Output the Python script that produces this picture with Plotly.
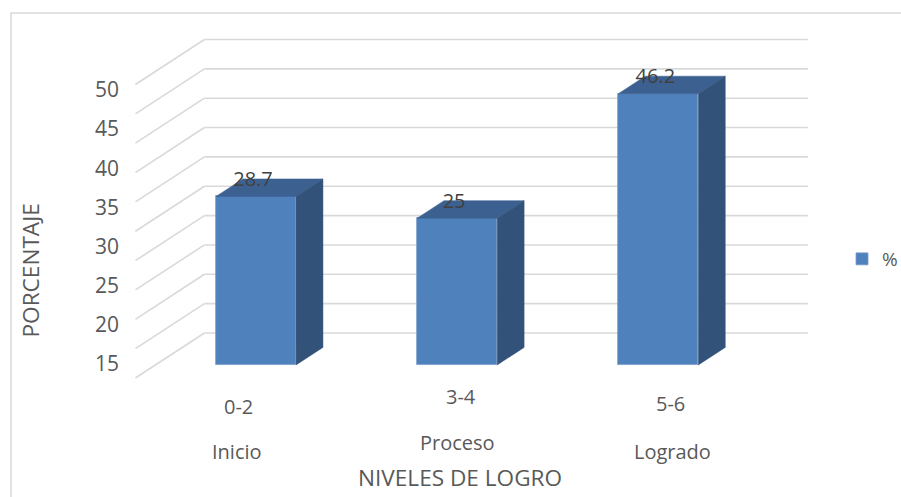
import plotly.graph_objects as go

# ---- data ----
categories_range = ["0-2", "3-4", "5-6"]
categories_level = ["Inicio", "Proceso", "Logrado"]
values = [28.7, 25, 46.2]
series_name = "%"
tick_labels = [15, 20, 25, 30, 35, 40, 45, 50]
grid_values = [0, 5, 10, 15, 20, 25, 30, 35, 40, 45, 50]

# ---- pseudo-3D geometry (style) ----
DX, DY = 0.343, 7.67      # full floor depth in axis units
D0, D1 = 0.29, 0.68       # bar front / back depth fraction
W = 0.398                 # bar width
FRONT = "#4F81BD"
SIDE = "#33527A"
TOP = "#3C6191"
GRID = "#D9D9D9"
TXT = "#595959"
FONT = "Open Sans"

W_PX, H_PX = 901, 497
ML, MR, MT, MB = 120, 0, 30, 107
PW, PH = W_PX - ML - MR, H_PX - MT - MB

def px_x(p):
    return (p - ML) / PW

def px_y(p):
    return (H_PX - MB - p) / PH

n = len(values)
xs = list(range(n))

fig = go.Figure()

# gridlines (back wall + left wall diagonals)
shapes = []
for g in grid_values:
    shapes.append(dict(type="line", xref="x", yref="y", layer="below",
                       x0=-0.5, y0=g, x1=-0.5 + DX, y1=g + DY,
                       line=dict(color=GRID, width=1.6)))
    shapes.append(dict(type="line", xref="x", yref="y", layer="below",
                       x0=-0.5 + DX, y0=g + DY, x1=n - 0.5 + DX, y1=g + DY,
                       line=dict(color=GRID, width=1.6)))
# chart border
shapes.append(dict(type="rect", xref="paper", yref="paper",
                   x0=px_x(11), y0=px_y(505), x1=px_x(905), y1=px_y(13),
                   line=dict(color=GRID, width=1.5), layer="below"))

# front faces
fig.add_trace(go.Bar(
    x=[i + D0 * DX for i in xs], y=values, base=[D0 * DY] * n, width=W,
    marker=dict(color=FRONT, line=dict(color="#7D9DCB", width=0.8)),
    name=series_name, showlegend=True, hoverinfo="skip"))

# top and side faces
for i, v in zip(xs, values):
    l, r = i - W / 2, i + W / 2
    fig.add_trace(go.Scatter(
        x=[l + D0 * DX, r + D0 * DX, r + D1 * DX, l + D1 * DX, l + D0 * DX],
        y=[v + D0 * DY, v + D0 * DY, v + D1 * DY, v + D1 * DY, v + D0 * DY],
        fill="toself", fillcolor=TOP, mode="lines",
        line=dict(color=TOP, width=0.5), showlegend=False, hoverinfo="skip"))
    fig.add_trace(go.Scatter(
        x=[r + D0 * DX, r + D0 * DX, r + D1 * DX, r + D1 * DX, r + D0 * DX],
        y=[D0 * DY, v + D0 * DY, v + D1 * DY, D1 * DY, D0 * DY],
        fill="toself", fillcolor=SIDE, mode="lines",
        line=dict(color=SIDE, width=0.5), showlegend=False, hoverinfo="skip"))

# data labels
fig.add_trace(go.Scatter(
    x=[i + D0 * DX - 0.015 for i in xs], y=[v + 0.63 * DY for v in values],
    text=[f"{v:g}" for v in values], mode="text",
    textfont=dict(family=FONT, size=20, color="#404040"),
    showlegend=False, hoverinfo="skip"))

# invisible trace for tick-label axis
fig.add_trace(go.Scatter(x=[None], y=[None], yaxis="y2", showlegend=False,
                         hoverinfo="skip"))

# category labels (two levels)
range_shift = [2, 24, 32]
level_shift = [1, 20, 34]
range_ypx = [406, 396, 403]
level_ypx = [451, 442, 451]
annotations = []
for i in xs:
    annotations.append(dict(x=i, xref="x", y=px_y(range_ypx[i]), yref="paper",
                            text=categories_range[i], showarrow=False,
                            xshift=range_shift[i], xanchor="center",
                            yanchor="middle",
                            font=dict(family=FONT, size=20, color=TXT)))
    annotations.append(dict(x=i, xref="x", y=px_y(level_ypx[i]), yref="paper",
                            text=categories_level[i], showarrow=False,
                            xshift=level_shift[i], xanchor="center",
                            yanchor="middle",
                            font=dict(family=FONT, size=20, color=TXT)))
annotations.append(dict(x=px_x(460), y=px_y(477), xref="paper", yref="paper",
                        text="NIVELES DE LOGRO", showarrow=False,
                        xanchor="center", yanchor="middle",
                        font=dict(family=FONT, size=22.6, color=TXT)))
annotations.append(dict(x=px_x(30), y=px_y(270.5), xref="paper", yref="paper",
                        text="PORCENTAJE", showarrow=False, textangle=-90,
                        xanchor="center", yanchor="middle",
                        font=dict(family=FONT, size=22.6, color=TXT)))

# axis ranges chosen to map pixels
x0 = (ML - 236) / 201.15
x1 = (ML + PW - 236) / 201.15
y_lo = (378 - (H_PX - MB)) / 5.87
y_hi = (378 - MT) / 5.87
s2 = (364 - 90) / (tick_labels[-1] - tick_labels[0])
y2_lo = tick_labels[0] - ((H_PX - MB) - 364) / s2
y2_hi = tick_labels[-1] + (90 - MT) / s2

fig.update_layout(
    width=W_PX, height=H_PX, autosize=False,
    margin=dict(l=ML, r=MR, t=MT, b=MB, autoexpand=False),
    paper_bgcolor="white", plot_bgcolor="white",
    shapes=shapes, annotations=annotations,
    xaxis=dict(range=[x0, x1], showgrid=False, zeroline=False,
               showticklabels=False, showline=False, fixedrange=True),
    yaxis=dict(range=[y_lo, y_hi], showgrid=False, zeroline=False,
               showticklabels=False, showline=False, fixedrange=True),
    yaxis2=dict(range=[y2_lo, y2_hi], overlaying="y", side="left",
                tickvals=tick_labels, showgrid=False, zeroline=False,
                showline=False, ticks="", fixedrange=True,
                tickfont=dict(family=FONT, size=21, color=TXT)),
    legend=dict(x=px_x(842), y=px_y(259), xanchor="left", yanchor="middle",
                font=dict(family=FONT, size=19, color=TXT),
                bgcolor="rgba(0,0,0,0)", itemwidth=30),
    showlegend=True, bargap=0,
)

fig.write_html("out.html", config={"displayModeBar": False},
               post_script="document.body.style.margin='0';"
                           "document.body.style.overflow='hidden';")
